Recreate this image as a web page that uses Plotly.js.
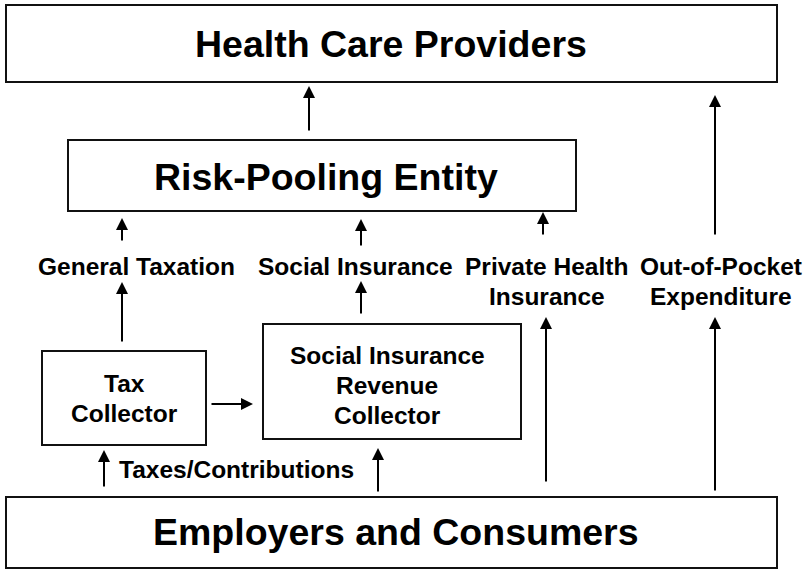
<!DOCTYPE html>
<html>
<head>
<meta charset="utf-8">
<script src="https://cdn.plot.ly/plotly-3.0.1.min.js"></script>
<style>html,body{margin:0;padding:0;background:#fff;}#chart{width:809px;height:569px;}</style>
</head>
<body>
<div id="chart"></div>
<script>
// Box labels (text content, lines separated by <br>)
const boxLabels = ["Health Care Providers", "Risk-Pooling Entity", "Tax<br>Collector",
                   "Social Insurance<br>Revenue<br>Collector", "Employers and Consumers"];
// Flow labels
const flowLabels = ["General Taxation", "Social Insurance", "Private Health<br>Insurance",
                    "Out-of-Pocket<br>Expenditure", "Taxes/Contributions"];

// Layout geometry (diagram coordinates, pixels, y downward)
const boxGeom = [
  {x0: 6,   x1: 777, y0: 5,   y1: 82,  tx: 391, ty: 44,  size: 37.5},
  {x0: 68,  x1: 576, y0: 140, y1: 211, tx: 326, ty: 177, size: 37.5},
  {x0: 42,  x1: 206, y0: 351, y1: 445, tx: 124, ty: 398.5, size: 24.5},
  {x0: 263, x1: 521, y0: 324, y1: 439, tx: 387, ty: 385, size: 24.5},
  {x0: 6,   x1: 777, y0: 497, y1: 568, tx: 396, ty: 532, size: 37.5}
];
const flowGeom = [
  {x: 136, y: 266}, {x: 355, y: 266}, {x: 546.5, y: 281}, {x: 721, y: 281}, {x: 236.5, y: 469.5}
];
const LINE_GAP = 30;
// Arrows: tail (x0,y0) -> head (x1,y1)
const arrows = [
  [309,132,309,86], [715,236,715,95],
  [122,242,122,218], [361,247,361,219], [543,236,543,212],
  [122,343,122,282], [361,315,361,281],
  [546,483,546,317], [715,492,715,317],
  [210,404,253,404],
  [104,488,104,450], [378,493,378,448]
];

const FONT = "Liberation Sans, Arial, sans-serif";
const shapes = boxGeom.map(g => ({
  type: "rect", xref: "x", yref: "y", x0: g.x0, x1: g.x1, y0: g.y0, y1: g.y1,
  line: {color: "#111", width: 2}, fillcolor: "rgba(0,0,0,0)"
}));
const annotations = [];
function addText(text, cx, cy, size) {
  const lines = text.split("<br>");
  lines.forEach((ln, i) => {
    annotations.push({x: cx, y: cy + (i - (lines.length - 1) / 2) * LINE_GAP, xref: "x", yref: "y",
      text: "<b>" + ln + "</b>", showarrow: false, font: {family: FONT, size: size, color: "#000"}});
  });
}
boxLabels.forEach((t, i) => addText(t, boxGeom[i].tx, boxGeom[i].ty, boxGeom[i].size));
flowLabels.forEach((t, i) => addText(t, flowGeom[i].x, flowGeom[i].y, 24.5));
arrows.forEach(a => {
  annotations.push({x: a[2], y: a[3], ax: a[0], ay: a[1], xref: "x", yref: "y", axref: "x", ayref: "y",
    text: "", showarrow: true, arrowhead: 2, arrowsize: 1.2, arrowwidth: 2, arrowcolor: "#000", standoff: 0});
});

Plotly.newPlot("chart", [{x: [], y: [], type: "scatter"}], {
  width: 809, height: 569, margin: {l: 0, r: 0, t: 0, b: 0},
  paper_bgcolor: "#fff", plot_bgcolor: "#fff", showlegend: false,
  xaxis: {range: [0, 809], visible: false, fixedrange: true},
  yaxis: {range: [569, 0], visible: false, fixedrange: true},
  shapes: shapes, annotations: annotations
}, {staticPlot: true});
</script>
</body>
</html>
